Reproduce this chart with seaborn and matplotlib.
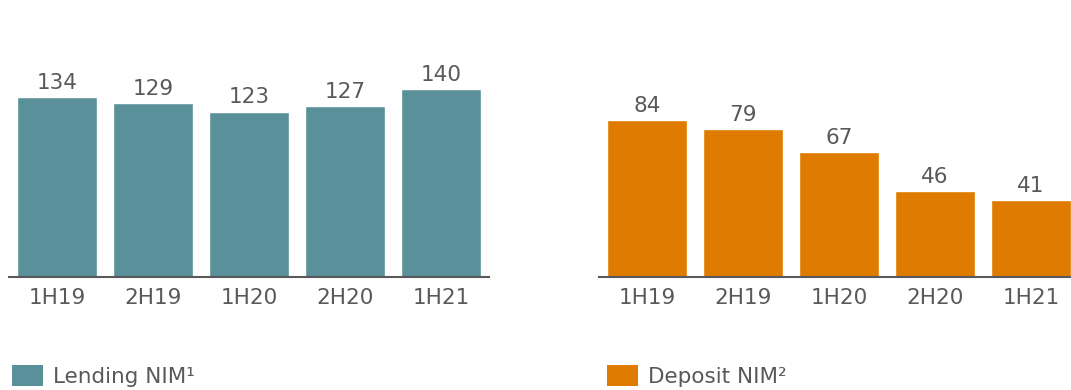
import matplotlib
matplotlib.use("Agg")
import matplotlib.pyplot as plt
import seaborn as sns
import pandas as pd
from matplotlib.patches import Patch

periods = ["1H19", "2H19", "1H20", "2H20", "1H21"]
lending_nim = [134, 129, 123, 127, 140]
deposit_nim = [84, 79, 67, 46, 41]

teal = "#5A9099"
orange = "#DE7B00"
grey = "#595959"
FS = 15.5

sns.set_theme(style="white")
plt.rcParams["font.family"] = ["DejaVu Sans"]

W, H = 1071, 390
fig = plt.figure(figsize=(W / 100, H / 100), dpi=100)


def px_axes(left, right, top, bottom):
    return fig.add_axes([left / W, 1 - bottom / H, (right - left) / W, (bottom - top) / H])


ax_l = px_axes(9, 489, 20, 277)
ax_r = px_axes(599, 1079, 20, 277)

panels = [
    (ax_l, lending_nim, teal, 257 / 1.345, "Lending NIM¹", 12),
    (ax_r, deposit_nim, orange, 257 / 1.87, "Deposit NIM²", 607),
]

for ax, values, color, ymax, label, lx in panels:
    df = pd.DataFrame({"period": periods, "value": values})
    sns.barplot(data=df, x="period", y="value", color=color, saturation=1,
                width=80 / 96, ax=ax)
    ax.set_xlim(-0.5, 4.5)
    ax.set_ylim(0, ymax)
    ax.bar_label(ax.containers[0], labels=[str(v) for v in values],
                 padding=3, fontsize=FS, color=grey)
    ax.set_xlabel("")
    ax.set_ylabel("")
    ax.set_yticks([])
    ax.tick_params(axis="x", length=0, pad=8, labelsize=FS, labelcolor=grey)
    for side in ["top", "right", "left"]:
        ax.spines[side].set_visible(False)
    ax.spines["bottom"].set_color(grey)
    ax.spines["bottom"].set_linewidth(1.5)
    ax.set_facecolor("none")
    fig.legend(handles=[Patch(facecolor=color, edgecolor="none", label=label)],
               loc="center left", bbox_to_anchor=(lx / W, 1 - 376 / H),
               frameon=False, fontsize=FS, labelcolor=grey,
               handlelength=31 / 21.5, handleheight=23 / 21.5, handletextpad=10 / 21.5,
               borderpad=0, borderaxespad=0)

fig.savefig("out.png", dpi=100)
